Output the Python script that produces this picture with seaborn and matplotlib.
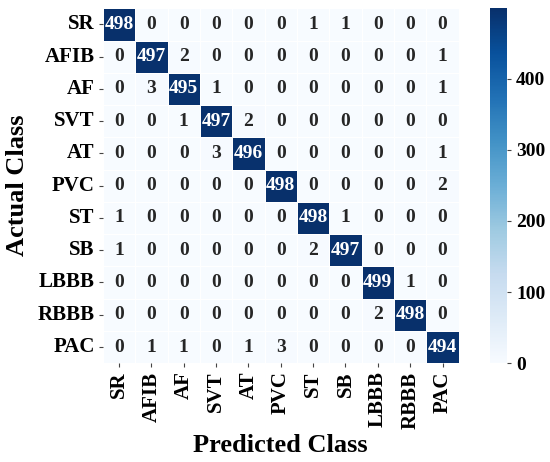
import numpy as np
import seaborn as sns
import matplotlib.pyplot as plt

classes = ['SR', 'AFIB', 'AF', 'SVT', 'AT', 'PVC', 'ST', 'SB', 'LBBB', 'RBBB', 'PAC']

cm = np.array([
    [498, 0, 0, 0, 0, 0, 1, 1, 0, 0, 0],
    [0, 497, 2, 0, 0, 0, 0, 0, 0, 0, 1],
    [0, 3, 495, 1, 0, 0, 0, 0, 0, 0, 1],
    [0, 0, 1, 497, 2, 0, 0, 0, 0, 0, 0],
    [0, 0, 0, 3, 496, 0, 0, 0, 0, 0, 1],
    [0, 0, 0, 0, 0, 498, 0, 0, 0, 0, 2],
    [1, 0, 0, 0, 0, 0, 498, 1, 0, 0, 0],
    [1, 0, 0, 0, 0, 0, 2, 497, 0, 0, 0],
    [0, 0, 0, 0, 0, 0, 0, 0, 499, 1, 0],
    [0, 0, 0, 0, 0, 0, 0, 0, 2, 498, 0],
    [0, 1, 1, 0, 1, 3, 0, 0, 0, 0, 494],
])

plt.rcParams['font.family'] = ['Liberation Serif', 'DejaVu Serif']
plt.rcParams['font.weight'] = 'bold'

fig = plt.figure(figsize=(5.5, 4.62), dpi=100)
ax = fig.add_axes([0.187, 0.214, 0.647, 0.768])
cax = fig.add_axes([0.891, 0.214, 0.031, 0.768])

sns.heatmap(cm, cmap='Blues', annot=True, fmt='d', linewidths=0.5, linecolor='white',
            xticklabels=classes, yticklabels=classes, ax=ax, cbar_ax=cax,
            annot_kws={'size': 14, 'weight': 'bold'})

ax.set_xticklabels(classes, rotation=90, fontsize=15, fontweight='bold')
ax.set_yticklabels(classes, rotation=0, fontsize=15, fontweight='bold')
ax.tick_params(length=3, width=0.8, color='#444444', pad=3)
ax.set_xlabel('Predicted Class', fontsize=19, fontweight='bold', labelpad=4)
ax.set_ylabel('Actual Class', fontsize=19, fontweight='bold', labelpad=6)

cax.set_yticks([0, 100, 200, 300, 400])
cax.tick_params(labelsize=14, length=3, width=0.8, color='#444444')
for t in cax.get_yticklabels():
    t.set_fontweight('bold')

fig.savefig('out.png', dpi=100)
